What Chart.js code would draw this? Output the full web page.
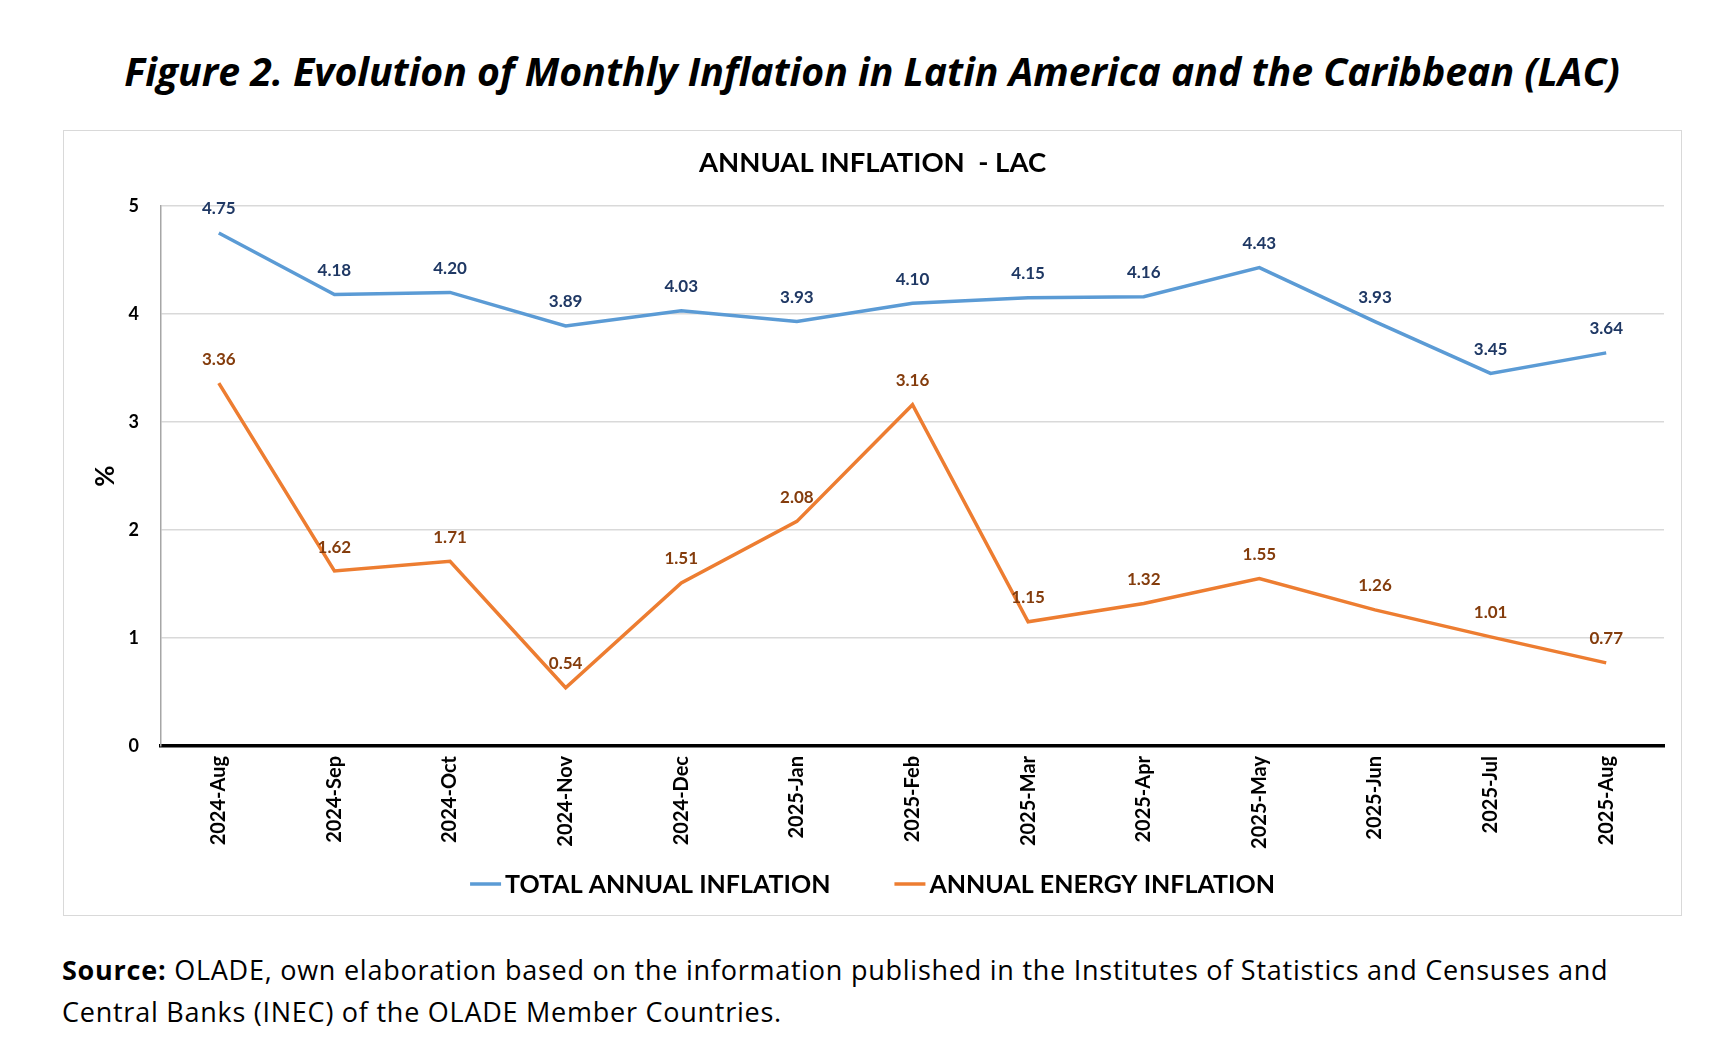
<!DOCTYPE html>
<html>
<head>
<meta charset="utf-8">
<script src="https://cdn.jsdelivr.net/npm/chart.js@4.4.1/dist/chart.umd.min.js"></script>
<style>
html,body{margin:0;padding:0;background:#fff;width:1714px;height:1048px;overflow:hidden;}
#title{position:absolute;left:872px;top:47px;transform:translateX(-50%);white-space:nowrap;font-family:"Open Sans",sans-serif;font-weight:700;font-style:italic;font-size:39.2px;line-height:48px;color:#000;}
#box{position:absolute;left:63px;top:130px;width:1617px;height:784px;border:1px solid #d9d9d9;}
#box canvas{position:absolute;left:0;top:0;}
#src{position:absolute;left:62px;top:949px;white-space:nowrap;font-family:"Open Sans",sans-serif;font-weight:500;font-size:27px;letter-spacing:0.75px;line-height:42px;color:#000;}
#src b{font-weight:700;}
</style>
</head>
<body>
<div id="title">Figure 2. Evolution of Monthly Inflation in Latin America and the Caribbean (LAC)</div>
<div id="box"><canvas id="c" width="1617" height="784"></canvas></div>
<div id="src"><b>Source:</b> OLADE, own elaboration based on the information published in the Institutes of Statistics and Censuses and<br>Central Banks (INEC) of the OLADE Member Countries.</div>
<script>
const categories = ["2024-Aug","2024-Sep","2024-Oct","2024-Nov","2024-Dec","2025-Jan","2025-Feb","2025-Mar","2025-Apr","2025-May","2025-Jun","2025-Jul","2025-Aug"];
const totalInflation = [4.75,4.18,4.20,3.89,4.03,3.93,4.10,4.15,4.16,4.43,3.93,3.45,3.64];
const energyInflation = [3.36,1.62,1.71,0.54,1.51,2.08,3.16,1.15,1.32,1.55,1.26,1.01,0.77];
const yTicks = [0,1,2,3,4,5];

const FONT = "Lato, 'Open Sans', sans-serif";

const dataLabels = {
  id: 'dataLabels',
  afterDatasetsDraw(chart) {
    const ctx = chart.ctx;
    ctx.save();
    ctx.font = "bold 17px " + FONT;
    ctx.textAlign = 'center';
    ctx.textBaseline = 'middle';
    chart.data.datasets.forEach((ds, i) => {
      const meta = chart.getDatasetMeta(i);
      ctx.fillStyle = ds.labelColor;
      meta.data.forEach((pt, j) => {
        ctx.fillText(ds.data[j].toFixed(2), pt.x, pt.y - 24);
      });
    });
    ctx.restore();
  }
};

const lineLegend = {
  id: 'lineLegend',
  afterDraw(chart) {
    const ctx = chart.ctx;
    ctx.save();
    ctx.font = "bold 25px " + FONT;
    ctx.textBaseline = 'middle';
    const sample = 31, gap = 4, between = 64;
    const items = chart.data.datasets.map(ds => ({text: ds.label, color: ds.borderColor, w: sample + gap + ctx.measureText(ds.label).width}));
    const total = items.reduce((a, it) => a + it.w, 0) + between * (items.length - 1);
    let x = chart.width / 2 - total / 2;
    const y = 753;
    items.forEach(it => {
      ctx.strokeStyle = it.color;
      ctx.lineWidth = 3.5;
      ctx.beginPath();
      ctx.moveTo(x, y);
      ctx.lineTo(x + sample, y);
      ctx.stroke();
      ctx.fillStyle = '#000';
      ctx.fillText(it.text, x + sample + gap, y + 1);
      x += it.w + between;
    });
    ctx.restore();
  }
};

new Chart(document.getElementById('c'), {
  type: 'line',
  data: {
    labels: categories,
    datasets: [
      {label: 'TOTAL ANNUAL INFLATION', data: totalInflation, borderColor: '#5b9bd5', backgroundColor: '#5b9bd5', borderWidth: 3.5, pointRadius: 0, tension: 0, labelColor: '#1f3864'},
      {label: 'ANNUAL ENERGY INFLATION', data: energyInflation, borderColor: '#ed7d31', backgroundColor: '#ed7d31', borderWidth: 3.5, pointRadius: 0, tension: 0, labelColor: '#843c0c'}
    ]
  },
  options: {
    responsive: false,
    animation: false,
    devicePixelRatio: 1,
    layout: {padding: {top: 10, right: 17, bottom: 19, left: 17}},
    plugins: {
      legend: {display: false},
      tooltip: {enabled: false},
      title: {display: true, text: 'ANNUAL INFLATION  - LAC', color: '#000', font: {family: FONT, size: 27.5, weight: 'bold'}, padding: {top: 5.5, bottom: 26.5}}
    },
    scales: {
      x: {
        offset: true,
        grid: {display: false, drawTicks: false},
        border: {display: true, color: '#000', width: 3.5},
        ticks: {color: '#000', font: {family: FONT, size: 20, weight: 'bold'}, maxRotation: 90, minRotation: 90, padding: 10, autoSkip: false},
        afterFit(s) { s.height = 150; }
      },
      y: {
        min: 0, max: 5,
        afterBuildTicks(s) { s.ticks = yTicks.map(v => ({value: v})); },
        grid: {color: '#d9d9d9', lineWidth: 1.5, drawTicks: false},
        border: {display: true, color: '#a6a6a6', width: 1.5},
        ticks: {color: '#000', font: {family: FONT, size: 18, weight: 'bold'}, padding: 22},
        title: {display: true, text: '%', color: '#000', font: {family: FONT, size: 26, weight: 'bold'}, padding: {top: 9, bottom: 0}},
        afterFit(s) { s.width = 80; }
      }
    }
  },
  plugins: [dataLabels, lineLegend]
});
</script>
</body>
</html>
